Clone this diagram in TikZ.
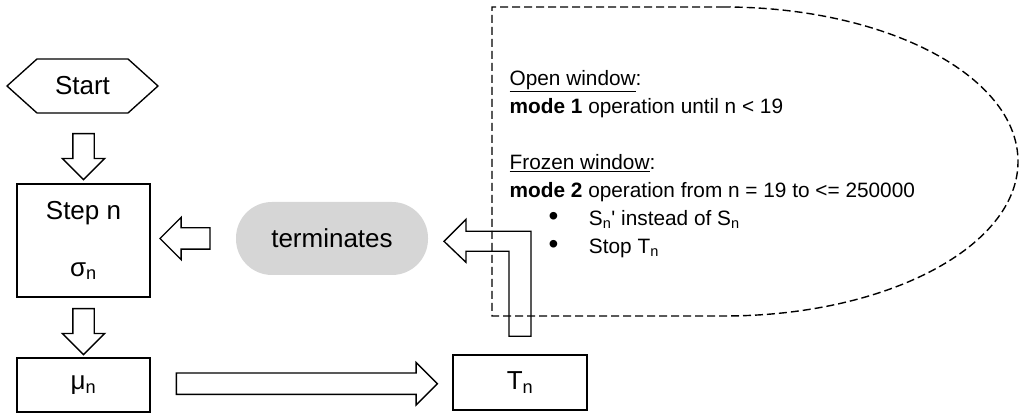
\documentclass[tikz,border=0pt]{standalone}
\usepackage{fontspec}
\setmainfont{Liberation Sans}
\usetikzlibrary{calc,shapes.arrows,shapes.symbols}
\definecolor{pillgray}{RGB}{214,214,214}

\begin{document}
\begin{tikzpicture}[x=1pt,y=1pt,line width=1.35pt,
  box/.style={draw,inner sep=0pt,minimum width=133pt,font=\fontsize{26}{30}\selectfont},
  barrow/.style={draw,single arrow,single arrow head extend=10.5pt,inner sep=0pt,inner ysep=10pt,minimum height=#1}]
  \def\W{1019};
  \def\H{414};
  \def\lx{492};  % left side of the dashed window
  \def\cx{724};  % where the dashed window starts to bend
  \def\rx{294};
  \def\ry{154.5};
  \useasboundingbox (0,0) rectangle (\W,\H);
  %nodes
  \node[draw,signal,signal to=east and west,signal pointer angle=84,inner sep=0pt,minimum width=151pt,minimum height=54pt,font=\fontsize{26}{30}\selectfont] (start) at (82.5,328) {Start};
  \node[box,minimum height=113pt,align=center] (step) at (83.5,173.5) {Step n\\[27pt]σ\textsubscript{n}};
  \node[box,minimum height=54pt] (mu) at (83.5,29) {μ\textsubscript{n}};
  \node[box,minimum width=134pt,minimum height=55pt] (tn) at (520,31.5) {T\textsubscript{n}};
  \node[fill=pillgray,rounded corners=36pt,minimum width=192pt,minimum height=73pt,font=\fontsize{26}{30}\selectfont] (term) at (332,175.5) {terminates};
  %block arrows
  \node[barrow=46pt,rotate=-90] (a1) at ($(step.north)+(0,32)$) {};
  \node[barrow=46pt,rotate=-90] (a2) at ($(mu.north)+(0,31)$) {};
  \node[barrow=50pt,rotate=180] (a3) at ($(term.west)+(-45,0)$) {};
  \node[barrow=261pt] (a4) at ($(mu.east)!0.5!(tn.west)$) {};
  \draw ($(tn.north)+(-11,18)$)--++(0,85)--++(-43,0)--++(0,-11)--++(-22,21)--++(22,22)--++(0,-12)--++(65,0)--++(0,-105)--cycle;
  %window
  \draw[line width=1.4pt,dash pattern=on 8pt off 4pt] (\cx,\ry*2+98)--(\lx,\ry*2+98)--(\lx,98)--(\cx,98) arc[start angle=-90,end angle=90,x radius=\rx,y radius=\ry];
  \node[anchor=north west,inner sep=0pt,align=left,font=\fontsize{20.8}{28}\selectfont] (modes) at (509,344) {\underline{Open window}:\\
    \textbf{mode 1} operation until n < 19\\[28pt]
    \underline{Frozen window}:\\
    \textbf{mode 2} operation from n = 19 to <= 250000\\
    \hspace*{39pt}{\fontsize{28}{28}\selectfont•}\hspace*{30.5pt}S\textsubscript{n}\textquotesingle{} instead of S\textsubscript{n}\\
    \hspace*{39pt}{\fontsize{28}{28}\selectfont•}\hspace*{30.5pt}Stop T\textsubscript{n}};
\end{tikzpicture}
\end{document}
